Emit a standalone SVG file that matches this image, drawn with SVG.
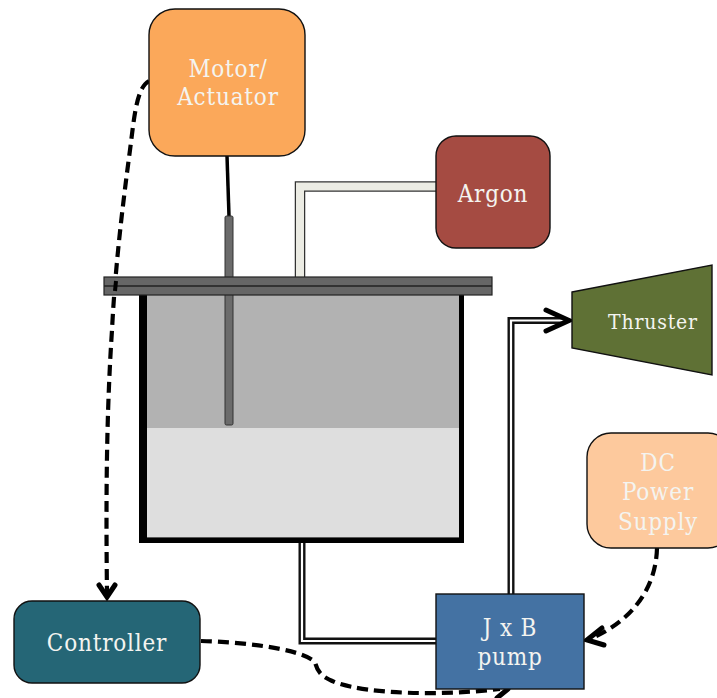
<svg xmlns="http://www.w3.org/2000/svg" width="717" height="698" viewBox="0 0 717 698">
<style>
text{font-family:"DejaVu Serif Condensed","DejaVu Serif",serif;font-stretch:condensed;font-size:24px;fill:#f4f4f0;text-anchor:middle;letter-spacing:.8px}
.box{stroke:#111;stroke-width:1.4}
.dash{fill:none;stroke:#000;stroke-width:4.200;stroke-dasharray:11 6}
.head{fill:none;stroke:#000;stroke-width:5;stroke-linecap:round;stroke-linejoin:miter}
.po{fill:none;stroke:#111;stroke-width:7}
.pi{fill:none;stroke:#fff;stroke-width:2.200}
</style>
<rect width="717" height="698" fill="#fff"/>
<g id="tank">
<rect x="144" y="292" width="318" height="248" fill="#b2b2b2"/>
<rect x="147" y="428" width="312" height="109" fill="#dedede"/>
<path d="M139 292H147V537.500H459V292H464V543H139Z" fill="#000"/>
</g>
<g id="connectors">
<path d="M227 156L229 216" fill="none" stroke="#000" stroke-width="3.500"/>
<path d="M300 278V186.500H437" fill="none" stroke="#333" stroke-width="10.500"/>
<path d="M300 278V186.500H437" fill="none" stroke="#ecece4" stroke-width="8"/>
<path d="M302 543V641H437" class="po"/><path d="M302 543V641H437" class="pi"/>
<path d="M511 594V320.500H565" class="po"/><path d="M511 594V320.500H565" class="pi"/>
<path d="M546 310L569 320.500L546 331" class="head"/>
<path d="M149 81C136 88 134 120 130 150C122 210 115 270 112 330C106 420 106 510 107 594" class="dash"/>
<path d="M99 585L107 597L115 585" class="head"/>
<path d="M201 641C240 642 300 648 315 662C318 675 325 678 337 683C370 694 440 696 500 689" class="dash"/>
<path d="M497 698L508 689" class="head"/>
<path d="M657 548C656 590 630 622 590 639" class="dash"/>
<path d="M602 628L587 640L604 645" class="head"/>
</g>
<g id="rod"><rect x="225" y="216" width="8" height="209" rx="1.500" fill="#6b6b6b" stroke="#333" stroke-width="1"/></g>
<g id="lid">
<rect x="104" y="277" width="388" height="18" fill="#666" stroke="#222" stroke-width="1.200"/>
<line x1="104" y1="286" x2="492" y2="286" stroke="#222" stroke-width="1.500"/>
</g>
<path d="M116 281L115 291" fill="none" stroke="#000" stroke-width="4"/>
<g id="motor"><rect x="149" y="9" width="156" height="147" rx="26" fill="#fba85a" class="box"/>
<text x="228" y="77">Motor/</text><text x="228" y="105">Actuator</text></g>
<g id="argon"><rect x="436" y="136" width="114" height="112" rx="20" fill="#a54b42" class="box"/>
<text x="493" y="202">Argon</text></g>
<g id="thruster"><path d="M572 292L712 265V375L572 348Z" fill="#5f7135" class="box"/>
<text x="653" y="329" style="font-size:21px">Thruster</text></g>
<g id="dc"><rect x="587" y="433" width="145" height="115" rx="24" fill="#fdc99d" class="box"/>
<text x="658" y="471">DC</text><text x="658" y="500">Power</text><text x="658" y="530">Supply</text></g>
<g id="pump"><rect x="436" y="594" width="148" height="95" fill="#4472a3" class="box"/>
<text x="510" y="636">J x B</text><text x="510" y="665">pump</text></g>
<g id="controller"><rect x="14" y="601" width="186" height="82" rx="18" fill="#256676" class="box"/>
<text x="107" y="651">Controller</text></g>
</svg>
